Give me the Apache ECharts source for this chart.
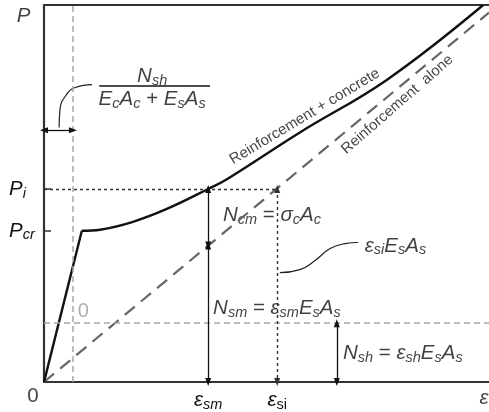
<!DOCTYPE html>
<html>
<head>
<meta charset="utf-8">
<script src="https://cdn.jsdelivr.net/npm/echarts@6/dist/echarts.min.js"></script>
<style>
  html, body { margin: 0; padding: 0; background: #fff; }
  #chart { width: 489px; height: 412px; }
</style>
</head>
<body>
<div id="chart"></div>
<script>
// Load–strain response of a reinforced concrete tie (schematic units, 0–100 on both axes)

// Reinforcement + concrete: uncracked branch, then cracked branch
const uncracked = [[0, 0], [8.5, 40.1]];
const cracked = [[8.5, 40.1], [12.6, 40.4], [20, 42.5], [27.6, 45.9], [36.9, 51.2], [41.1, 53.8], [57.5, 66.2], [77.1, 80.2], [98.7, 100]];
// Reinforcement alone
const steelAlone = [[0, 0], [100, 98]];

// Characteristic strains (x) and loads (y)
const epsSh = 6.5;        // shrinkage offset
const epsSm = 36.9;       // mean steel strain
const epsSi = 52.4;       // steel strain at the crack
const epsShArrow = 65.8;  // where N_sh is dimensioned
const Pcr = 40.1;
const Pi = 51.2;
const Nsh = 15.6;
const Nsm = 36.2;         // steel-alone load at epsSm

// Leader curves
const leaderFraction = [[3.4, 67.5], [3.6, 72.3], [4.9, 76.0], [7.0, 78.1], [10.8, 78.9]];
const leaderSteel = [[53.0, 29.0], [57.5, 29.8], [60.9, 32.2], [64.3, 35.4], [67.6, 36.7], [70.6, 37.0]];

const F = '"Liberation Sans", Arial, sans-serif';
const INK = '#111';
const rich = {
  m: { fontFamily: F, fontStyle: 'italic', fontSize: 20.5, lineHeight: 24, color: INK },
  r: { fontFamily: F, fontSize: 20.5, lineHeight: 24, color: INK },
  s: { fontFamily: F, fontStyle: 'italic', fontSize: 14.5, lineHeight: 12, verticalAlign: 'bottom', color: INK },
  su: { fontFamily: F, fontSize: 14.5, lineHeight: 12, verticalAlign: 'bottom', color: INK },
  g: { fontFamily: F, fontSize: 20, lineHeight: 24, color: '#9a9a9a' }
};

// Text placed in data coordinates
const annotations = [
  { at: [24.3, 81.0], text: '{m|N}{s|sh}', align: 'center' },
  { at: [24.3, 74.9], text: '{m|E}{s|c}{m|A}{s|c}{r| + }{m|E}{s|s}{m|A}{s|s}', align: 'center' },
  { at: [40.2, 44.1], text: '{m|N}{s|cm}{r| = }{m|σ}{s|c}{m|A}{s|c}', align: 'left' },
  { at: [72.1, 36.1], text: '{m|ε}{s|si}{m|E}{s|s}{m|A}{s|s}', align: 'left' },
  { at: [38.0, 19.5], text: '{m|N}{s|sm}{r| = }{m|ε}{s|sm}{m|E}{s|s}{m|A}{s|s}', align: 'left' },
  { at: [67.2, 7.7], text: '{m|N}{s|sh}{r| = }{m|ε}{s|sh}{m|E}{s|s}{m|A}{s|s}', align: 'left' },
  { at: [7.6, 18.7], text: '{g|0}', align: 'left' },
  { at: [-2.5, -3.9], text: '{r|0}', align: 'center' },
  { at: [-4.6, 97.0], text: '{m|P}', align: 'center' },
  { at: [98.9, -4.3], text: '{m|ε}', align: 'center' }
];
const curveLabels = [
  { at: [58.6, 70.4], text: 'Reinforcement + concrete', angle: 31 },
  { at: [79.4, 73.6], text: 'Reinforcement  alone', angle: 41 }
];

function seg(a, b, style, s1, s2) {
  return [
    { coord: a, symbol: s1 || 'none', lineStyle: style },
    { coord: b, symbol: s2 || 'none' }
  ];
}

const guideGray = { type: [6, 4], color: '#a8a8a8', width: 1.5 };
const dotted = { type: [3, 3], color: '#333', width: 1.4 };
const solidThin = { type: 'solid', color: INK, width: 1.3 };

const chart = echarts.init(document.getElementById('chart'), null, { renderer: 'canvas' });
chart.setOption({
  animation: false,
  backgroundColor: '#fff',
  grid: { left: 44, right: 0, top: 5, bottom: 28 },
  xAxis: [
    {
      type: 'value', min: 0, max: 100, position: 'bottom',
      axisLine: { show: true, lineStyle: { color: '#333', width: 2.2 } },
      axisTick: { show: false },
      splitLine: { show: false },
      axisLabel: {
        customValues: [epsSm, epsSi],
        margin: 6,
        formatter: v => v === epsSm ? '{m|ε}{s|sm}' : '{m|ε}{su|si}',
        rich: rich
      }
    },
    {
      type: 'value', min: 0, max: 100, position: 'top',
      axisLine: { show: true, lineStyle: { color: '#333', width: 2.2 } },
      axisTick: { show: false }, axisLabel: { show: false }, splitLine: { show: false }
    }
  ],
  yAxis: {
    type: 'value', min: 0, max: 100,
    axisLine: { show: true, lineStyle: { color: '#333', width: 2.2 } },
    axisTick: { show: true, inside: true, length: 7, customValues: [Pcr, Pi], lineStyle: { color: '#333', width: 1.5 } },
    splitLine: { show: false },
    axisLabel: {
      customValues: [Pcr, Pi],
      align: 'left',
      margin: 35,
      formatter: v => v === Pcr ? '{m|P}{s|cr}' : '{m|P}{s|i}',
      rich: rich
    }
  },
  series: [
    {
      name: 'guides', type: 'line', data: [], silent: true,
      markLine: {
        silent: true, animation: false, label: { show: false }, symbol: 'none',
        data: [
          seg([epsSh, 0], [epsSh, 100], guideGray),
          seg([0, Nsh], [100, Nsh], guideGray),
          seg([0, Pi], [epsSi, Pi], dotted),
          seg([epsSi, Pi], [epsSi, 0], dotted, 'triangle', 'triangle'),
          seg([epsSm, Pi], [epsSm, Nsm], solidThin, 'triangle', 'triangle'),
          seg([epsSm, Nsm], [epsSm, 0], solidThin, 'triangle', 'triangle'),
          seg([epsShArrow, Nsh], [epsShArrow, 0], solidThin, 'triangle', 'triangle'),
          seg([0, 66.8], [epsSh, 66.8], solidThin, 'triangle', 'triangle'),
          seg([12.4, 78.6], [37.3, 78.6], { type: 'solid', color: INK, width: 1.5 })
        ],
        symbolSize: [6, 8]
      }
    },
    {
      name: 'Reinforcement alone', type: 'line', data: steelAlone, silent: true,
      showSymbol: false, symbol: 'none',
      lineStyle: { color: '#666', width: 2.2, type: [13, 8] }
    },
    {
      name: 'uncracked', type: 'line', data: uncracked, silent: true,
      showSymbol: false, symbol: 'none',
      lineStyle: { color: INK, width: 2.4 }
    },
    {
      name: 'Reinforcement + concrete', type: 'line', data: cracked, silent: true,
      showSymbol: false, symbol: 'none', smooth: 0.4,
      lineStyle: { color: INK, width: 2.4 }
    },
    {
      name: 'leader1', type: 'line', data: leaderFraction, silent: true,
      showSymbol: false, symbol: 'none', smooth: 0.5,
      lineStyle: { color: '#222', width: 1.2 }
    },
    {
      name: 'leader2', type: 'line', data: leaderSteel, silent: true,
      showSymbol: false, symbol: 'none', smooth: 0.5,
      lineStyle: { color: '#222', width: 1.2 }
    },
    {
      name: 'text', type: 'scatter', silent: true, clip: false,
      symbolSize: 1, itemStyle: { color: 'rgba(0,0,0,0)' },
      data: annotations.map(a => ({
        value: a.at,
        label: {
          show: true, position: 'inside', align: a.align, verticalAlign: 'middle',
          formatter: a.text, rich: rich
        }
      })).concat(curveLabels.map(c => ({
        value: c.at,
        label: {
          show: true, position: 'inside', align: 'center', verticalAlign: 'middle',
          rotate: c.angle, formatter: c.text,
          fontFamily: F, fontSize: 15, color: INK
        }
      })))
    }
  ]
});
</script>
</body>
</html>
